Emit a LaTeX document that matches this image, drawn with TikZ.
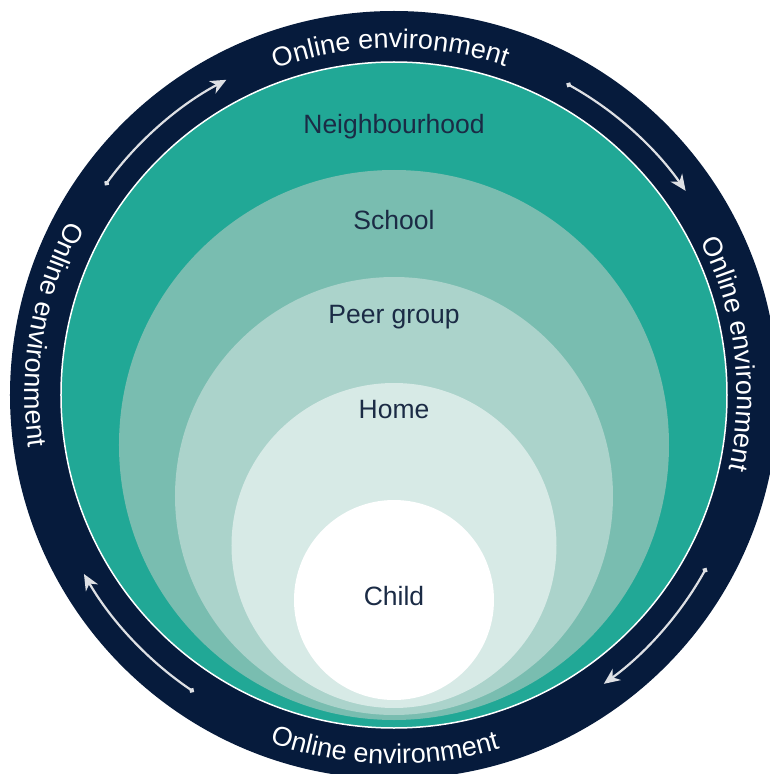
\documentclass[tikz,border=0pt]{standalone}
\usepackage{fontspec}
\setmainfont{Liberation Sans}
\usepackage{xcolor}
\usetikzlibrary{arrows.meta,decorations.text}
\definecolor{ringnavy}{RGB}{6,27,60}
\definecolor{labelnavy}{RGB}{27,43,69}
\definecolor{nbhteal}{RGB}{33,168,150}
\definecolor{schoolteal}{RGB}{121,189,176}
\definecolor{peerteal}{RGB}{171,211,203}
\definecolor{hometeal}{RGB}{215,234,230}
\definecolor{arrowgrey}{RGB}{222,224,228}
\tikzset{
    layerlabel/.style = {anchor=base, text=labelnavy, font=\fontsize{26.5}{30}\selectfont},
    ringarrow/.style = {draw=arrowgrey, line width=2.2pt,
        {Circle[length=5pt]}-{Stealth[length=16pt,width=14pt,inset=5pt]}},
    ringtext/.style = {decorate, decoration={text along path, text align=center,
        text={|\fontsize{27}{30}\selectfont\color{white}|#1}}}
}

\begin{document}
\begin{tikzpicture}[x=1pt,y=1pt]
        \useasboundingbox (-394,-379) rectangle (375,395);
        % rings, outside in
        \fill[ringnavy] (0,0) circle[radius=384];
        \fill[nbhteal] (0,0) circle[radius=333];
        \draw[white, line width=1.5pt] (0,0) circle[radius=333];
        \fill[schoolteal] (0,-50) circle[radius=275];
        \fill[peerteal] (0,-101) circle[radius=219];
        \fill[hometeal] (0,-150.5) circle[radius=162.5];
        \fill[white] (0,-205) circle[radius=100];

        \node[layerlabel] (nbh) at (0,261) {Neighbourhood};
        \node[layerlabel] (school) at (0,165) {School};
        \node[layerlabel] (peer) at (0,72) {Peer group};
        \node[layerlabel] (home) at (0,-23) {Home};
        \node[layerlabel] (child) at (0,-210) {Child};

        % labels on the dark ring
        \path[ringtext={Online environment}] (126.6:347) arc[start angle=126.6, end angle=54.6, radius=347];
        \path[ringtext={Online environment}] (43:343) arc[start angle=43, end angle=-29, radius=343];
        \path[ringtext={Online environment}] (232.5:369) arc[start angle=232.5, end angle=304.5, radius=369];
        \path[ringtext={Online environment}] (134:369) arc[start angle=134, end angle=206, radius=369];

        % arrows going round
        \draw[ringarrow] (144:357) arc[start angle=144, end angle=118, radius=357];
        \draw[ringarrow] (61:356) arc[start angle=61, end angle=35, radius=356];
        \draw[ringarrow] (-29:357) arc[start angle=-29, end angle=-54, radius=357];
        \draw[ringarrow] (236:358) arc[start angle=236, end angle=210, radius=358];
    \end{tikzpicture}
\end{document}
